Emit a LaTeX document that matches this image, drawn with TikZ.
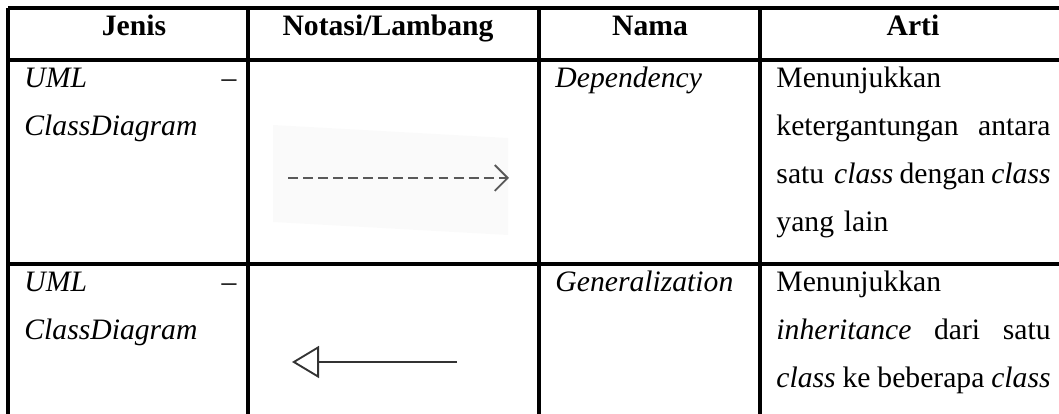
\documentclass[tikz,border=0pt]{standalone}
\usepackage{fontspec}
\setmainfont{Liberation Serif}
\usetikzlibrary{arrows.meta}
\begin{document}
\begin{tikzpicture}[x=0.425pt, y=-0.425pt,
            grid/.style = {line width=1.3pt},
            head/.style = {font=\fontsize{12.6}{14}\selectfont\bfseries, anchor=base, inner sep=0pt},
            cell/.style = {font=\fontsize{12.6}{20.4}\selectfont, anchor=base west, inner sep=0pt, align=left},
            dep/.style = {draw=black!65, line width=0.8pt, dash pattern=on 4.2pt off 2.2pt, -{Straight Barb[length=5.5pt, width=11pt, line width=0.8pt]}},
            gen/.style = {draw=black!80, line width=0.6pt, -{Triangle[open, length=11.5pt, width=13.6pt, line width=0.8pt]}}] 
            \useasboundingbox (0,0) rectangle (1059,414);
            \clip (0,0) rectangle (1059,414);
            % table lines
            \draw[grid] (8,8) -- (1066,8);
            \draw[grid] (8,60) -- (1066,60);
            \draw[grid] (8,264) -- (1066,264);
            \draw[grid] (8,8) -- (8,420);
            \draw[grid] (248,8) -- (248,420);
            \draw[grid] (539,8) -- (539,420);
            \draw[grid] (760,8) -- (760,420);
            \draw[grid] (1066,8) -- (1066,420);
            % header
            \node[head] (jenis) at (134,36) {Jenis};
            \node[head] (notasi) at (388,36) {Notasi/Lambang};
            \node[head] (nama) at (650,36) {Nama};
            \node[head] (arti) at (913,36) {Arti};
            % dependency row
            \node[cell, text width=90.1pt] (jenis1) at (24,88) {\itshape UML\hfill --\\ClassDiagram};
            \node[cell] (nama1) at (555,88) {\textit{Dependency}};
            \node[cell, text width=116.5pt] (arti1) at (776,88) {Menunjukkan\\ketergantungan\hfill antara\\satu \textit{class}\hfill dengan\hfill \textit{class}\\yang lain};
            \fill[black!2] (273,125) -- (508,138) -- (508,235) -- (273,222) -- cycle;
            \coordinate (dep-s) at (288,178);
            \coordinate (dep-e) at (509,178);
            \draw[dep] (dep-s) -- (dep-e);
            % generalization row
            \node[cell, text width=90.1pt] (jenis2) at (24,292) {\itshape UML\hfill --\\ClassDiagram};
            \node[cell] (nama2) at (555,292) {\textit{Generalization}};
            \node[cell, text width=116.5pt] (arti2) at (776,292) {Menunjukkan\\\textit{inheritance}\hfill dari\hfill satu\\\textit{class}\hfill ke\hfill beberapa\hfill \textit{class}};
            \coordinate (gen-s) at (457,362);
            \coordinate (gen-e) at (292,362);
            \draw[gen] (gen-s) -- (gen-e);
        \end{tikzpicture}
\end{document}
